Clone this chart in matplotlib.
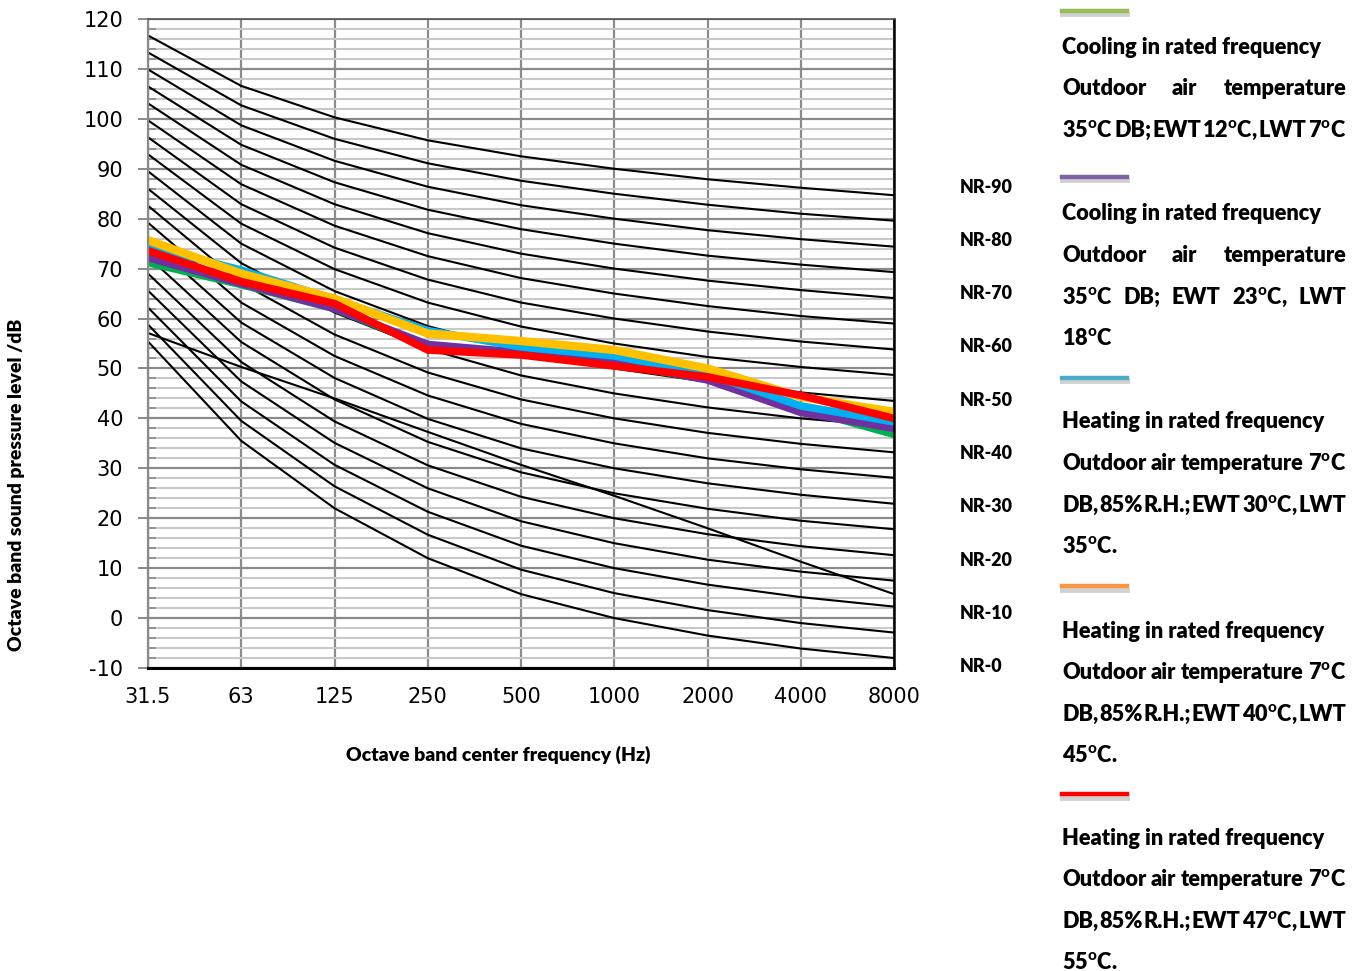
import matplotlib
matplotlib.use("Agg")
import matplotlib.pyplot as plt
from matplotlib.lines import Line2D
from matplotlib.ticker import MultipleLocator

plt.rcParams['mathtext.fontset'] = 'custom'
plt.rcParams['mathtext.rm'] = 'Lato'
plt.rcParams['mathtext.bf'] = 'Lato:black'
plt.rcParams['axes.unicode_minus'] = False

# ---------------- data ----------------
freqs = ["31.5", "63", "125", "250", "500", "1000", "2000", "4000", "8000"]

nr_curves = [
    [55.4, 35.5, 22.0, 12.0, 4.8, 0.0, -3.5, -6.1, -8.0],
    [58.8, 39.5, 26.4, 16.7, 9.7, 5.0, 1.6, -1.0, -2.9],
    [62.2, 43.4, 30.7, 21.3, 14.5, 10.0, 6.7, 4.2, 2.3],
    [65.6, 47.4, 35.1, 26.0, 19.4, 15.0, 11.7, 9.3, 7.5],
    [69.0, 51.3, 39.4, 30.6, 24.3, 20.0, 16.8, 14.4, 12.6],
    [72.4, 55.3, 43.8, 35.3, 29.2, 25.0, 21.9, 19.5, 17.8],
    [75.8, 59.2, 48.1, 39.9, 34.0, 30.0, 27.0, 24.7, 22.9],
    [79.2, 63.2, 52.5, 44.6, 38.9, 35.0, 32.0, 29.8, 28.1],
    [82.6, 67.1, 56.8, 49.2, 43.8, 40.0, 37.1, 34.9, 33.2],
    [86.0, 71.1, 61.2, 53.9, 48.6, 45.0, 42.2, 40.0, 38.4],
    [89.5, 75.0, 65.5, 58.5, 53.5, 50.0, 47.3, 45.2, 43.5],
    [92.9, 79.0, 69.9, 63.2, 58.4, 55.0, 52.3, 50.3, 48.7],
    [96.3, 82.9, 74.2, 67.8, 63.2, 60.0, 57.4, 55.4, 53.8],
    [99.7, 86.9, 78.6, 72.5, 68.1, 65.0, 62.5, 60.5, 59.0],
    [103.1, 90.8, 82.9, 77.1, 73.0, 70.0, 67.6, 65.7, 64.1],
    [106.5, 94.8, 87.3, 81.8, 77.9, 75.0, 72.6, 70.8, 69.3],
    [109.9, 98.7, 91.6, 86.4, 82.7, 80.0, 77.7, 75.9, 74.4],
    [113.3, 102.7, 96.0, 91.1, 87.6, 85.0, 82.8, 81.0, 79.6],
    [116.7, 106.6, 100.3, 95.7, 92.5, 90.0, 87.9, 86.2, 84.7],
]
extra_curve = [57.1, 50.3, 44.0, 37.3, 30.7, 24.5, 18.0, 11.3, 4.8]

cooling_12_7 = [71.2, 66.8, 62.0, 54.5, 53.0, 51.0, 47.8, 42.0, 36.8]
cooling_23_18 = [72.2, 67.0, 62.0, 54.8, 53.2, 51.3, 47.7, 41.2, 38.0]
heating_30_35 = [74.5, 69.7, 63.8, 57.6, 54.3, 52.5, 48.9, 42.5, 39.3]
heating_40_45 = [75.7, 69.0, 64.0, 57.0, 55.5, 53.7, 50.0, 44.3, 41.3]
heating_47_55 = [73.6, 67.4, 63.0, 53.7, 52.7, 50.5, 48.3, 44.6, 40.0]

nr_labels = ["NR-90", "NR-80", "NR-70", "NR-60", "NR-50",
             "NR-40", "NR-30", "NR-20", "NR-10", "NR-0"]

series = [
    (cooling_12_7, "#00B050", 5.5),
    (cooling_23_18, "#7030A0", 5.5),
    (heating_30_35, "#00B0F0", 5.5),
    (heating_40_45, "#FFC000", 6.0),
    (heating_47_55, "#FF0000", 5.5),
]
legend_colors = ["#9BBB59", "#8064A2", "#4BACC6", "#F79646", "#FF0000"]

DEG = r"$^{\mathbf{o}}$"
legend_blocks = [
    [("Cooling in rated frequency", False),
     ("Outdoor air temperature", True),
     ("35" + DEG + "C DB; EWT 12" + DEG + "C, LWT 7" + DEG + "C", True)],
    [("Cooling in rated frequency", False),
     ("Outdoor air temperature", True),
     ("35" + DEG + "C DB; EWT 23" + DEG + "C, LWT", True),
     ("18" + DEG + "C", False)],
    [("Heating in rated frequency", False),
     ("Outdoor air temperature 7" + DEG + "C", True),
     ("DB, 85% R.H.; EWT 30" + DEG + "C, LWT", True),
     ("35" + DEG + "C.", False)],
    [("Heating in rated frequency", False),
     ("Outdoor air temperature 7" + DEG + "C", True),
     ("DB, 85% R.H.; EWT 40" + DEG + "C, LWT", True),
     ("45" + DEG + "C.", False)],
    [("Heating in rated frequency", False),
     ("Outdoor air temperature 7" + DEG + "C", True),
     ("DB, 85% R.H.; EWT 47" + DEG + "C, LWT", True),
     ("55" + DEG + "C.", False)],
]

# ---------------- figure ----------------
W, H = 1365, 971
fig = plt.figure(figsize=(W / 100, H / 100), dpi=100)
renderer = fig.canvas.get_renderer()

def fx(px):
    return px / W

def fy(py):
    return 1 - py / H

ax = fig.add_axes([fx(148), fy(668), fx(894) - fx(148), fy(19) - fy(668)])
x = list(range(len(freqs)))

for c in nr_curves:
    ax.plot(x, c, color="black", lw=1.5, zorder=3, solid_joinstyle="round")
ax.plot(x, extra_curve, color="black", lw=1.5, zorder=3)

for vals, col, lw in series:
    ax.plot(x, vals, color=col, lw=lw, zorder=4, solid_joinstyle="miter")

ax.set_xlim(0, 8)
ax.set_ylim(-10, 120)
ax.set_xticks(x)
ax.set_xticklabels(freqs)
ax.yaxis.set_major_locator(MultipleLocator(10))
ax.yaxis.set_minor_locator(MultipleLocator(2))
ax.grid(which="minor", axis="y", color="#C8C8C8", lw=1.5, zorder=1)
ax.grid(which="major", axis="y", color="#8A8A8A", lw=1.6, zorder=2)
ax.grid(which="major", axis="x", color="#8A8A8A", lw=1.6, zorder=2)
ax.tick_params(axis="y", which="major", direction="out", length=7, width=1.4,
               color="#8A8A8A", labelsize=15, pad=11)
ax.tick_params(axis="y", which="minor", direction="in", length=6, width=1.2,
               color="#8A8A8A")
ax.tick_params(axis="x", which="major", length=0, labelsize=15, pad=14)
for lab in ax.get_xticklabels() + ax.get_yticklabels():
    lab.set_fontfamily("DejaVu Sans")
ax.spines["left"].set_color("#8A8A8A")
ax.spines["left"].set_linewidth(1.6)
ax.spines["bottom"].set_color("black")
ax.spines["bottom"].set_linewidth(2.2)
ax.spines["right"].set_color("black")
ax.spines["right"].set_linewidth(1.8)
ax.spines["top"].set_color("#555555")
ax.spines["top"].set_linewidth(1.2)
for s in ax.spines.values():
    s.set_zorder(5)

FONT = "Lato"
WEIGHT = "heavy"

def text_width(s, size):
    t = fig.text(0, 0, s, fontsize=size, fontweight=WEIGHT, family=FONT)
    w = t.get_window_extent(renderer).width
    t.remove()
    return w

def fit_size(s, target_px):
    w = text_width(s, 10)
    return 10 * target_px / w

# axis titles
xl = "Octave band center frequency (Hz)"
fig.text(fx(498), fy(755), xl, fontsize=fit_size(xl, 306), fontweight=WEIGHT,
         family=FONT, ha="center", va="center")
yl = "Octave band sound pressure level /dB"
fig.text(fx(17), fy(485), yl, fontsize=fit_size(yl, 334), fontweight=WEIGHT,
         family=FONT, ha="center", va="center", rotation=90)

# NR labels
nr_size = fit_size("NR-90", 53)
for i, lab in enumerate(nr_labels):
    fig.text(fx(960), fy(187 + i * 53.3), lab, fontsize=nr_size,
             fontweight=WEIGHT, family=FONT, ha="left", va="center")

# legend
leg_size = fit_size("Cooling in rated frequency", 261)
x0, x1 = 1062, 1346
marker_y = [11, 177, 378, 586, 794]
first_text_y = [47, 214, 422, 631, 838]
line_step = 41.6

def draw_line(s, y, justify):
    words = s.split(" ")
    if not justify or len(words) == 1:
        fig.text(fx(x0), fy(y), s, fontsize=leg_size, fontweight=WEIGHT,
                 family=FONT, ha="left", va="center")
        return
    widths = [text_width(w, leg_size) for w in words]
    gap = (x1 - x0 - sum(widths)) / (len(words) - 1)
    xx = x0
    for w, wd in zip(words, widths):
        fig.text(fx(xx), fy(y), w, fontsize=leg_size, fontweight=WEIGHT,
                 family=FONT, ha="left", va="center")
        xx += wd + gap

for k, block in enumerate(legend_blocks):
    my = marker_y[k]
    fig.add_artist(Line2D([fx(x0), fx(1127)], [fy(my + 3.5), fy(my + 3.5)],
                          color="#9A9A9A", lw=3.5, alpha=0.45))
    fig.add_artist(Line2D([fx(x0), fx(1127)], [fy(my), fy(my)],
                          color=legend_colors[k], lw=3.2))
    for j, (s, just) in enumerate(block):
        draw_line(s, first_text_y[k] + j * line_step, just)

fig.savefig("out.png", dpi=100)
